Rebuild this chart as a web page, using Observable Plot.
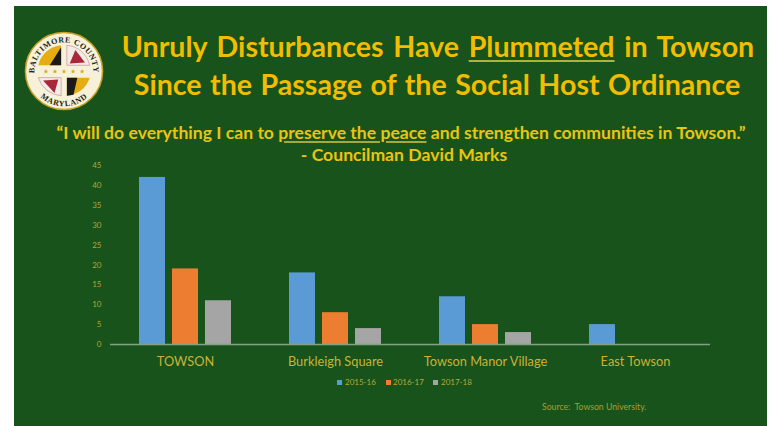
<!DOCTYPE html>
<html><head><meta charset="utf-8">
<script src="https://cdn.jsdelivr.net/npm/d3@7"></script>
<script src="https://cdn.jsdelivr.net/npm/@observablehq/plot@0.6"></script>
<style>
html,body{margin:0;padding:0;background:#fff;width:771px;height:426px;overflow:hidden}
#panel{position:absolute;left:13.5px;top:6px;width:753.5px;height:420px;background:#17531b}
#chart{position:absolute;left:0;top:0}
#chart svg{background:transparent!important}
.t{position:absolute;white-space:nowrap;font-family:Lato,sans-serif;transform:translateX(-50%);line-height:1}
.h{font-weight:700;font-size:28.6px;color:#f2bd00;word-spacing:1.5px}
.q{font-weight:700;font-size:17.6px;color:#e9c411}
.h u{text-decoration-color:#b5b03a;text-decoration-thickness:2px;text-underline-offset:3px}
.q u{text-decoration-color:#a5a83a;text-decoration-thickness:1.5px;text-underline-offset:2px}
.l{position:absolute;font-family:Lato,sans-serif;font-size:8px;color:#b9a93a;line-height:1;white-space:nowrap}
.s{position:absolute;width:4.5px;height:4.5px}
#seal{position:absolute;left:24px;top:31px}
</style></head><body>
<div id="panel"></div>
<div id="chart"></div>
<svg id="seal" width="80" height="80" viewBox="-42 -42 84 84">
  <defs>
    <path id="arcTop" d="M -29 12 A 31 31 0 1 1 29 12"/>
    <path id="arcBot" d="M -29 23 A 37 37 0 0 0 29 23"/>
    <path id="star" d="M0 -2.6 L.7 -.8 L2.5 -.8 L1.1 .4 L1.6 2.1 L0 1.1 L-1.6 2.1 L-1.1 .4 L-2.5 -.8 L-.7 -.8Z" fill="#d9ab1c"/>
  </defs>
  <circle r="40.5" fill="#f6f1d8" stroke="#c9a227" stroke-width="1.6"/>
  <path d="M-3 -6 H-27 A27 27 0 0 1 -3 -27Z" fill="#e6ac14"/>
  <path d="M-15 -6 L-3 -25 V-6Z" fill="#1a1a1a"/>
  <path d="M3 -6 H27 A27 27 0 0 0 3 -27Z" fill="#f3ebe6" stroke="#b5818a" stroke-width=".6"/>
  <path d="M6 -8 L12 -22 L22 -9Z" fill="#a8283a"/>
  <path d="M-3 7 H-27 A27 27 0 0 0 -3 26Z" fill="#f3ebe6" stroke="#b5818a" stroke-width=".6"/>
  <path d="M-6 9 L-22 10 L-10 23Z" fill="#a8283a"/>
  <path d="M3 7 H27 A27 27 0 0 1 3 26Z" fill="#e6ac14"/>
  <path d="M3 7 H14 L10 25 L3 26Z" fill="#1a1a1a"/>
  <use href="#star" x="-19" y="0.5"/><use href="#star" x="-9.5" y="0.5"/><use href="#star" x="0" y="0.5"/><use href="#star" x="9.5" y="0.5"/><use href="#star" x="19" y="0.5"/>
  <text font-family="Liberation Serif,serif" font-weight="700" font-size="8.4" fill="#222" letter-spacing=".6"><textPath href="#arcTop" startOffset="50%" text-anchor="middle">BALTIMORE COUNTY</textPath></text>
  <text font-family="Liberation Serif,serif" font-weight="700" font-size="8.4" fill="#222" letter-spacing=".6"><textPath href="#arcBot" startOffset="50%" text-anchor="middle">MARYLAND</textPath></text>
</svg>
<div class="t h" style="left:438px;top:32px;word-spacing:2.7px">Unruly Disturbances Have <u>Plummeted</u> in Towson</div>
<div class="t h" style="left:437px;top:70px">Since the Passage of the Social Host Ordinance</div>
<div class="t q" style="left:401px;top:124px">“I will do everything I can to <u>preserve the peace</u> and strengthen communities in Towson.”</div>
<div class="t q" style="left:404px;top:146px">- Councilman David Marks</div>
<div class="s" style="left:337px;top:380px;background:#5b9bd5"></div><div class="l" style="left:345px;top:378px">2015-16</div>
<div class="s" style="left:386px;top:380px;background:#ed7d31"></div><div class="l" style="left:393px;top:378px">2016-17</div>
<div class="s" style="left:433px;top:380px;background:#a5a5a5"></div><div class="l" style="left:441px;top:378px">2017-18</div>
<div class="l" style="left:542px;top:403px;font-size:8.7px;color:#a89f35">Source:&nbsp; Towson University.</div>
<script>
const categories = ["TOWSON", "Burkleigh Square", "Towson Manor Village", "East Towson"];
const seasons = ["2015-16", "2016-17", "2017-18"];
const colors = ["#5b9bd5", "#ed7d31", "#a5a5a5"];
const values2015 = [42, 18, 12, 5];
const values2016 = [19, 8, 5, 0];
const values2017 = [11, 4, 3, 0];
const yTicks = [0, 5, 10, 15, 20, 25, 30, 35, 40, 45];

const series = [values2015, values2016, values2017];
const rows = categories.flatMap((c, i) => seasons.map((s, j) => ({category: c, season: s, value: series[j][i]})));

const plot = Plot.plot({
  width: 771, height: 426,
  marginLeft: 110, marginRight: 61, marginTop: 165, marginBottom: 82,
  style: {background: "transparent", fontFamily: "Lato, sans-serif"},
  fx: {domain: categories, padding: 0, label: null},
  x: {domain: seasons, paddingInner: 0.21, paddingOuter: 0.855, axis: null},
  y: {domain: [0, 45], label: null},
  color: {domain: seasons, range: colors},
  marks: [
    Plot.barY(rows, {fx: "category", x: "season", y: "value", fill: "season"}),
    Plot.ruleY([0], {stroke: "#84a184", strokeWidth: 1.4}),
    Plot.axisY({ticks: yTicks, tickSize: 0, tickPadding: 9, fontSize: 8, fill: "#b4a636", label: null}),
    Plot.axisFx({anchor: "bottom", tickSize: 0, tickPadding: 12, fontSize: 12.8, fill: "#c9b23a", label: null})
  ]
});
document.getElementById("chart").appendChild(plot);
</script>
</body></html>
